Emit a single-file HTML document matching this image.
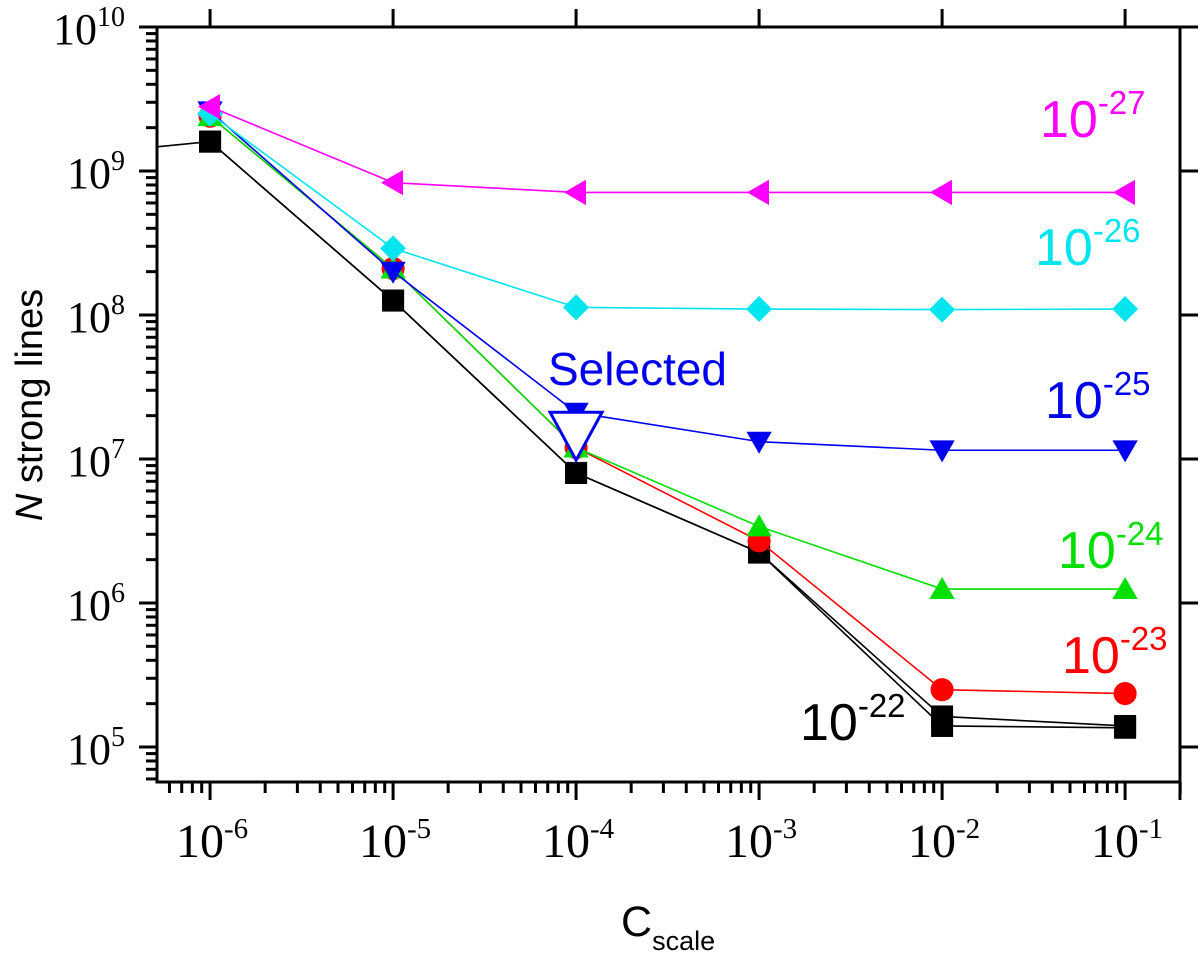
<!DOCTYPE html>
<html><head><meta charset="utf-8">
<style>
body{margin:0;background:#fff;}
svg{display:block;}
.tl{font-family:"Liberation Serif",serif;fill:#000;}
.lab{font-family:"Liberation Sans",sans-serif;}
</style></head>
<body>
<svg id="chart" width="1200" height="953" viewBox="0 0 1200 953" xmlns="http://www.w3.org/2000/svg">
<defs><clipPath id="clip"><rect x="157" y="27" width="1023" height="755"/></clipPath></defs>
<g id="series" clip-path="url(#clip)"></g>
<g id="axes"></g>
<g id="labels"></g>
</svg>
<script>
const xCats=[1e-6,1e-5,1e-4,1e-3,1e-2,1e-1];
const magenta27=[2.8e9,8.3e8,7.1e8,7.1e8,7.1e8,7.1e8];
const cyan26=[2.5e9,2.9e8,1.13e8,1.1e8,1.09e8,1.1e8];
const blue25=[2.6e9,2.0e8,2.1e7,1.32e7,1.15e7,1.15e7];
const green24=[2.4e9,2.1e8,1.2e7,3.4e6,1.25e6,1.25e6];
const red23=[2.4e9,2.1e8,1.2e7,2.7e6,2.5e5,2.35e5];
const blackA22=[1.6e9,1.26e8,8.0e6,2.24e6,1.63e5,1.40e5];
const blackB22=[1.6e9,1.26e8,8.0e6,2.24e6,1.40e5,1.36e5];
const blackLeadX=[1e-7,1e-6];
const blackLeadY=[1.2e9,1.6e9];
const selectedX=[1e-4];
const selectedY=[1.56e7];
const xTickExp=[-6,-5,-4,-3,-2,-1];
const yTickExp=[10,9,8,7,6,5];

const X0=157,X1=1180,Y0=27,Y1=782;
const lxMin=-6.29,lxMax=-0.70,lyMax=10,lyMin=10-(Y1-Y0)/144;
const xs=v=>X0+(Math.log10(v)-lxMin)/(lxMax-lxMin)*(X1-X0);
const ys=v=>Y0+(lyMax-Math.log10(v))/(lyMax-lyMin)*(Y1-Y0);
const NS="http://www.w3.org/2000/svg";
function mk(tag,attrs,parent){const e=document.createElementNS(NS,tag);for(const k in attrs)e.setAttribute(k,attrs[k]);parent.appendChild(e);return e;}
const gS=document.getElementById('series'),gA=document.getElementById('axes'),gL=document.getElementById('labels');

function marker(type,cx,cy,col,s,parent){
  let e;
  if(type==='square'){e=mk('rect',{x:cx-s,y:cy-s,width:2*s,height:2*s,fill:col},parent);}
  else if(type==='circle'){e=mk('circle',{cx:cx,cy:cy,r:s*1.05,fill:col},parent);}
  else if(type==='up'){e=mk('polygon',{points:`${cx},${cy-s*1.1} ${cx-s*1.15},${cy+s*0.9} ${cx+s*1.15},${cy+s*0.9}`,fill:col},parent);}
  else if(type==='down'){e=mk('polygon',{points:`${cx},${cy+s*1.1} ${cx-s*1.15},${cy-s*0.9} ${cx+s*1.15},${cy-s*0.9}`,fill:col},parent);}
  else if(type==='left'){e=mk('polygon',{points:`${cx-s*1.1},${cy} ${cx+s*0.9},${cy-s*1.15} ${cx+s*0.9},${cy+s*1.15}`,fill:col},parent);}
  else if(type==='diamond'){e=mk('polygon',{points:`${cx},${cy-s*1.3} ${cx+s*1.3},${cy} ${cx},${cy+s*1.3} ${cx-s*1.3},${cy}`,fill:col},parent);}
  return e;
}
function series(name,vals,col,type,size){
  const g=mk('g',{},gS);
  
  
  const pts=xCats.map((x,i)=>xs(x)+','+ys(vals[i])).join(' ');
  const l=mk('polyline',{points:pts,fill:'none',stroke:col,'stroke-width':1.6},g);
  
  
  return {g,type,col,size,vals};
}
const lead=mk('polyline',{points:blackLeadX.map((x,i)=>xs(x)+','+ys(blackLeadY[i])).join(' '),fill:'none',stroke:'#000','stroke-width':1.6},gS);


const S=[
 series('series-1e-22-b',blackB22,'#000','square',11),
 series('series-1e-22-a',blackA22,'#000','square',11),
 series('series-1e-23',red23,'#ff0000','circle',11),
 series('series-1e-24',green24,'#00e000','up',11),
 series('series-1e-25',blue25,'#0000ee','down',11),
 series('series-1e-26',cyan26,'#00e5ee','diamond',10),
 series('series-1e-27',magenta27,'#ff00ff','left',11)
];
S.forEach(s=>{xCats.forEach((x,i)=>{const m=marker(s.type,xs(x),ys(s.vals[i]),s.col,s.size,s.g);
 
 });});
selectedX.forEach((x,i)=>{const cx=xs(x),cy=ys(selectedY[i]);
 const m=mk('polygon',{points:`${cx},${cy+29} ${cx-26},${cy-19} ${cx+26},${cy-19}`,fill:'#fff',stroke:'#0000ee','stroke-width':3},gS);
 
 });

const fr=mk('rect',{x:X0,y:Y0,width:X1-X0,height:Y1-Y0,fill:'none',stroke:'#000','stroke-width':3},gA);


for(let e=-7;e<=-1;e++){for(let m=1;m<10;m++){const v=m*Math.pow(10,e);const x=xs(v);if(x<X0-0.5||x>X1+0.5)continue;
 const major=m===1;
 mk('line',{x1:x,y1:Y1,x2:x,y2:Y1+(major?18:11),stroke:'#000','stroke-width':3},gA);
 if(major) mk('line',{x1:x,y1:Y0,x2:x,y2:Y0-18,stroke:'#000','stroke-width':3},gA);}}
mk('line',{x1:X1,y1:Y1,x2:X1,y2:Y1+18,stroke:'#000','stroke-width':3},gA);
for(let e=4;e<=10;e++){for(let m=1;m<10;m++){const v=m*Math.pow(10,e);const y=ys(v);if(y<Y0-0.5||y>Y1+0.5)continue;
 const major=m===1;
 mk('line',{x1:X0,y1:y,x2:X0-(major?18:11),y2:y,stroke:'#000','stroke-width':3},gA);
 if(major) mk('line',{x1:X1,y1:y,x2:X1+18,y2:y,stroke:'#000','stroke-width':3},gA);}}
xTickExp.forEach(e=>{const t=mk('text',{x:xs(Math.pow(10,e))+2,y:857,'text-anchor':'middle',class:'tl','font-size':48},gA);
 
 
 t.innerHTML='10<tspan dy="-19" font-size="29">'+e+'</tspan>';});
yTickExp.forEach(e=>{const t=mk('text',{x:e===10?53:67,y:ys(Math.pow(10,e))+17,class:'tl','font-size':44},gA);
 
 
 t.innerHTML='10<tspan dy="-18" font-size="28">'+e+'</tspan>';});

const labs=[['-27','#ff00ff',1040,137],['-26','#00e5ee',1035,265],['-25','#0000ee',1045,418],['-24','#00e000',1058,568],['-23','#ff0000',1062,673],['-22','#000',800,740]];
labs.forEach(l=>{const t=mk('text',{x:l[2],y:l[3],fill:l[1],'font-size':52,class:'lab'},gL);
 
 
 t.innerHTML='10<tspan dy="-23" font-size="33">'+l[0]+'</tspan>';});
</script>
<svg style="position:absolute;left:0;top:0" width="1200" height="953" xmlns="http://www.w3.org/2000/svg">
<text x="548" y="385" fill="#0000ee" font-size="46" font-family="Liberation Sans, sans-serif">Selected</text>
<text transform="translate(42,405) rotate(-90)" text-anchor="middle" font-size="38" font-family="Liberation Sans, sans-serif"><tspan font-style="italic">N</tspan> strong lines</text>
<text x="621" y="936" font-size="43" font-family="Liberation Sans, sans-serif">C<tspan dy="14" font-size="27">scale</tspan></text>
</svg>
</body></html>
